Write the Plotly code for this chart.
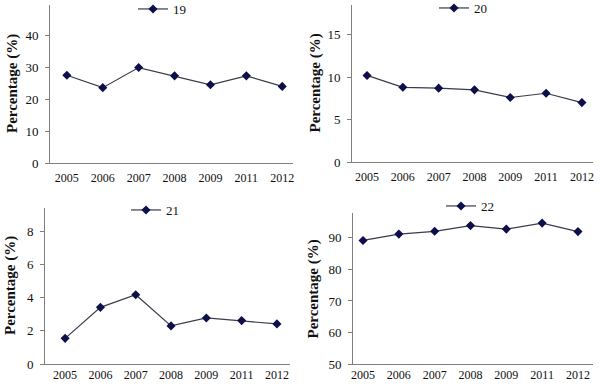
import plotly.graph_objects as go

years = ["2005", "2006", "2007", "2008", "2009", "2011", "2012"]
s19 = [27.5, 23.6, 29.9, 27.3, 24.5, 27.3, 24.0]
s20 = [10.2, 8.8, 8.7, 8.5, 7.6, 8.1, 7.0]
s21 = [1.55, 3.42, 4.18, 2.3, 2.78, 2.62, 2.42]
s22 = [89.2, 91.2, 92.1, 93.9, 92.8, 94.7, 92.0]
names = ["19", "20", "21", "22"]
series = [s19, s20, s21, s22]
yticks = [[0, 10, 20, 30, 40], [0, 5, 10, 15], [0, 2, 4, 6, 8], [50, 60, 70, 80, 90]]

W, H = 600, 386
# panel pixel boxes: (x0, x1, ytop, ybottom)
boxes = [(50, 293, 5, 163), (352, 593, 5, 162), (45, 290, 208, 364), (353, 593, 213, 364)]
yranges = [[0, 49.5], [0, 18.5], [0, 9.42], [50, 97.9]]
xranges = [[-0.47, 6.3], [-0.42, 6.31], [-0.57, 6.37], [-0.28, 6.42]]
xstandoff = [4, 4, 0, 0]
legpos = [(133, 9), (434, 8), (126, 210), (441, 206)]
titlex = [12, 315, 10, 313]

fig = go.Figure()
serif = "'Liberation Serif', 'Times New Roman', Times, serif"
for i in range(4):
    x0, x1, yt, yb = boxes[i]
    sfx = "" if i == 0 else str(i + 1)
    fig.add_trace(go.Scatter(
        x=years, y=series[i], name=names[i], mode="lines+markers",
        line=dict(color="#3a3a4a", width=1.2),
        marker=dict(symbol="diamond", size=7, color="#0e0e4a"),
        xaxis="x" + sfx, yaxis="y" + sfx, legend="legend" + sfx,
    ))
    fig.layout["xaxis" + sfx] = dict(
        domain=[x0 / W, x1 / W], anchor="y" + sfx, type="category",
        range=xranges[i], showgrid=False, zeroline=False, automargin=False,
        showline=True, linecolor="#808080", linewidth=1,
        ticks="", ticklabelstandoff=xstandoff[i],
        tickfont=dict(family=serif, size=12, color="#111"),
    )
    fig.layout["yaxis" + sfx] = dict(
        domain=[1 - yb / H, 1 - yt / H], anchor="x" + sfx, automargin=False,
        range=yranges[i], tickvals=yticks[i], showgrid=False, zeroline=False,
        showline=True, linecolor="#808080", linewidth=1,
        ticks="outside", ticklen=4, tickcolor="#808080", ticklabelstandoff=4,
        tickfont=dict(family=serif, size=13, color="#111"),
    )
    lx, ly = legpos[i]
    fig.layout["legend" + sfx] = dict(
        x=lx / W, y=1 - ly / H, xanchor="left", yanchor="middle",
        bgcolor="rgba(0,0,0,0)", font=dict(family=serif, size=13, color="#111"),
        itemwidth=30, tracegroupgap=0,
    )
    cy = 1 - (yt + yb) / 2 / H
    fig.add_annotation(
        x=titlex[i] / W, y=cy, xref="paper", yref="paper",
        text="<b>Percentage (%)</b>", textangle=-90, showarrow=False,
        font=dict(family=serif, size=15, color="#111"),
        xanchor="center", yanchor="middle",
    )

fig.update_layout(
    width=W, height=H, margin=dict(l=0, r=0, t=0, b=0, autoexpand=False),
    plot_bgcolor="white", paper_bgcolor="white", showlegend=True,
)
fig.write_html(
    "out.html",
    config={"displayModeBar": False},
    post_script="document.body.style.margin='0';document.body.style.padding='0';document.body.style.overflow='hidden';",
)
